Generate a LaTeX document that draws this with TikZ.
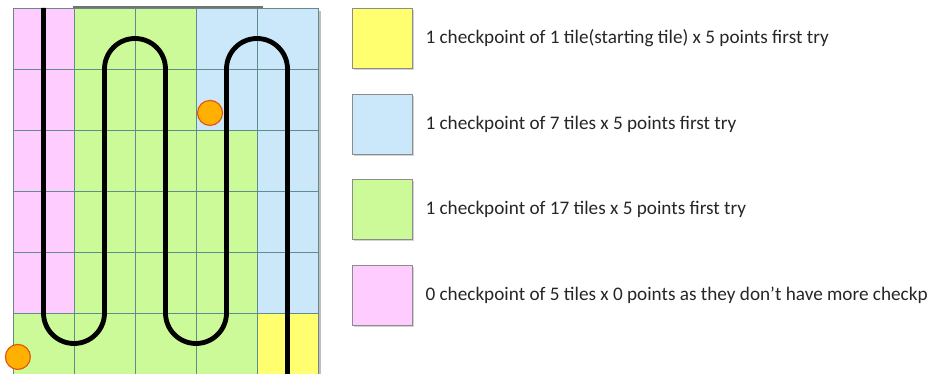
\documentclass[tikz,border=0pt]{standalone}
\usepackage{fontspec}
\setmainfont{Carlito}
\usetikzlibrary{positioning,shadows}
\definecolor{tilepink}{HTML}{FFCCFF}
\definecolor{tilegreen}{HTML}{CCFA98}
\definecolor{tileblue}{HTML}{CBE8FB}
\definecolor{tileyellow}{HTML}{FFFF70}
\definecolor{gridline}{HTML}{5F8C8C}
\definecolor{dotfill}{HTML}{FFB000}
\definecolor{dotrim}{HTML}{E05A10}
\begin{document}
\begin{tikzpicture}[x=61bp,y=61bp,
  legendbox/.style={draw=black!45, line width=0.6bp, minimum size=60bp, inner sep=0,
    drop shadow={opacity=0.35, shadow xshift=1.5bp, shadow yshift=-1.5bp}},
  legendtext/.style={font=\fontsize{19.2bp}{23bp}\selectfont, text=black!85, inner sep=0, anchor=west},
  checkdot/.style={fill=dotfill, draw=dotrim, line width=1.2bp}]
\useasboundingbox (-0.2131,0) rectangle (15.0328,6.1311);

% tiles of the field
\fill[black!25] (5,-0.05) rectangle (5.05,5.95);
\fill[tilepink] (0,1) rectangle (1,6);
\fill[tilegreen] (0,0) rectangle (4,1);
\fill[tilegreen] (1,1) rectangle (3,6);
\fill[tilegreen] (3,1) rectangle (4,4);
\fill[tileblue] (3,4) rectangle (5,6);
\fill[tileblue] (4,1) rectangle (5,4);
\fill[tileyellow] (4,0) rectangle (5,1);
\draw[gridline, line width=0.8bp, step={(1,1)}] (0,0) grid (5,6);
\draw[gridline!70!gray, line width=0.8bp] (0,0) rectangle (5,6);

\draw[black!55, line width=2.5bp] (0.98,6.02) -- (4.1,6.02);

% line
\draw[line width=1.7mm] (4.5,0) -- (4.5,5)
  arc[start angle=0, end angle=180, radius=0.5] -- (3.5,1)
  arc[start angle=0, end angle=-180, radius=0.5] -- (2.5,5)
  arc[start angle=0, end angle=180, radius=0.5] -- (1.5,1)
  arc[start angle=0, end angle=-180, radius=0.5] -- (0.5,6);

% checkpoints
\filldraw[checkdot] (3.23,4.28) circle (0.205);
\filldraw[checkdot] (0.08,0.28) circle (0.205);

% legend
\node[legendbox, fill=tileyellow] (yellowbox) at (6.05,5.5) {};
\node[legendtext, right=13bp of yellowbox] (yellowtext) {1 checkpoint of 1 tile(starting tile) x 5 points first try};

\node[legendbox, fill=tileblue, below=25bp of yellowbox] (bluebox) {};
\node[legendtext, right=13bp of bluebox] (bluetext) {1 checkpoint of 7 tiles x 5 points first try};

\node[legendbox, fill=tilegreen, below=25bp of bluebox] (greenbox) {};
\node[legendtext, right=13bp of greenbox] (greentext) {1 checkpoint of 17 tiles x 5 points first try};

\node[legendbox, fill=tilepink, below=25bp of greenbox] (pinkbox) {};
\node[legendtext, right=13bp of pinkbox] (pinktext) {0 checkpoint of 5 tiles x 0 points as they don’t have more checkp};
\end{tikzpicture}
\end{document}
